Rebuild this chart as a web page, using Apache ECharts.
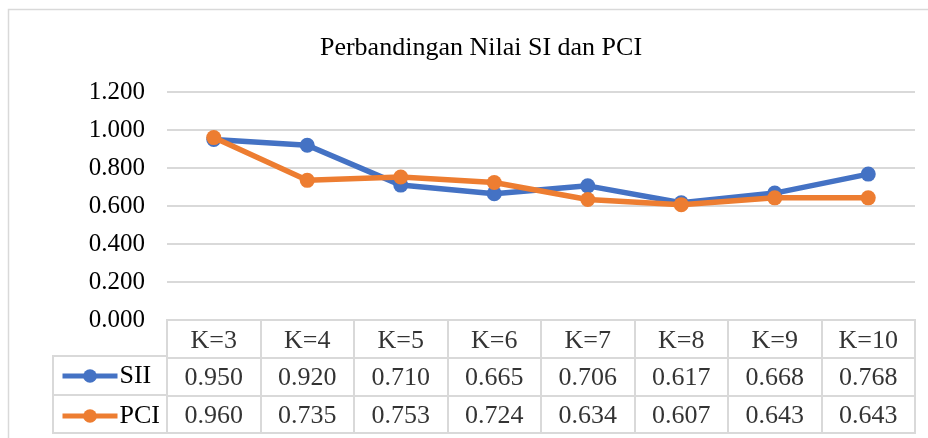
<!DOCTYPE html>
<html>
<head>
<meta charset="utf-8">
<script src="https://cdn.jsdelivr.net/npm/echarts@6/dist/echarts.min.js"></script>
<style>
  html, body { margin: 0; padding: 0; background: #fff; }
  #chart { width: 928px; height: 438px; }
</style>
</head>
<body>
<div id="chart"></div>
<script>
const titleText = "Perbandingan Nilai SI dan PCI";
const categories = ["K=3", "K=4", "K=5", "K=6", "K=7", "K=8", "K=9", "K=10"];
const siiValues = [0.950, 0.920, 0.710, 0.665, 0.706, 0.617, 0.668, 0.768];
const pciValues = [0.960, 0.735, 0.753, 0.724, 0.634, 0.607, 0.643, 0.643];
const tableRows = ["header", "SII", "PCI"];

const FONT = "'Liberation Serif', 'Times New Roman', serif";
const BLUE = "#4472c4";
const ORANGE = "#ed7d31";
const GRID_LINE = "#d9d9d9";

// table cells: header row + one row per series
const tableCells = [];
categories.forEach((cat, i) => {
  tableCells.push([cat, "header", cat]);
  tableCells.push([cat, "SII", siiValues[i].toFixed(3)]);
  tableCells.push([cat, "PCI", pciValues[i].toFixed(3)]);
});

const chart = echarts.init(document.getElementById("chart"));

chart.setOption({
  animation: false,
  title: {
    text: titleText,
    left: 476,
    textAlign: "center",
    top: 30,
    textStyle: { fontFamily: FONT, fontSize: 26, fontWeight: "normal", color: "#000" },
  },
  legend: {
    data: ["SII", "PCI"],
    orient: "vertical",
    left: 60,
    top: 361,
    padding: 0,
    itemWidth: 55,
    itemHeight: 17,
    itemGap: 10,
    textStyle: { fontFamily: FONT, fontSize: 26, lineHeight: 28, color: "#000", padding: [2, 0, 0, -3] },
    lineStyle: { width: 5 },
  },
  graphic: [
    {
      type: "rect",
      shape: { x: 8.5, y: 9.5, width: 940, height: 440 },
      style: { fill: null, stroke: GRID_LINE, lineWidth: 1.5 },
      silent: true,
      z: -1,
    },
  ],
  grid: [
    { left: 167, right: 13, top: 92, bottom: 118 },
    { left: 167, right: 13, top: 320, bottom: 5, show: true, borderColor: GRID_LINE, borderWidth: 2 },
    { left: 53, width: 114, top: 356, bottom: 5, show: true, borderColor: GRID_LINE, borderWidth: 2 },
  ],
  xAxis: [
    {
      type: "category",
      data: categories,
      gridIndex: 0,
      boundaryGap: true,
      axisLine: { show: false },
      axisTick: { show: false },
      axisLabel: { show: false },
    },
    {
      type: "category",
      data: categories,
      gridIndex: 1,
      boundaryGap: true,
      axisLine: { show: false },
      axisTick: { show: false },
      axisLabel: { show: false },
      splitLine: { show: true, lineStyle: { color: GRID_LINE, width: 2 } },
    },
    {
      type: "category",
      data: ["legend"],
      gridIndex: 2,
      show: false,
    },
  ],
  yAxis: [
    {
      type: "value",
      gridIndex: 0,
      min: 0,
      max: 1.2,
      interval: 0.2,
      axisLine: { show: false },
      axisTick: { show: false },
      axisLabel: {
        formatter: (v) => v.toFixed(3),
        fontFamily: FONT,
        fontSize: 25,
        color: "#000",
        margin: 22,
      },
      splitLine: { lineStyle: { color: GRID_LINE, width: 2 } },
    },
    {
      type: "category",
      data: tableRows,
      inverse: true,
      gridIndex: 1,
      axisLine: { show: false },
      axisTick: { show: false },
      axisLabel: { show: false },
      splitLine: { show: true, lineStyle: { color: GRID_LINE, width: 2 } },
    },
    {
      type: "category",
      data: ["SII", "PCI"],
      inverse: true,
      gridIndex: 2,
      axisLine: { show: false },
      axisTick: { show: false },
      axisLabel: { show: false },
      splitLine: { show: true, lineStyle: { color: GRID_LINE, width: 2 } },
    },
  ],
  series: [
    {
      name: "SII",
      type: "line",
      data: siiValues,
      symbol: "circle",
      symbolSize: 15,
      itemStyle: { color: BLUE },
      lineStyle: { color: BLUE, width: 5.5 },
      z: 2,
    },
    {
      name: "PCI",
      type: "line",
      data: pciValues,
      symbol: "circle",
      symbolSize: 15,
      itemStyle: { color: ORANGE },
      lineStyle: { color: ORANGE, width: 5.5 },
      z: 3,
    },
    {
      name: "table",
      type: "scatter",
      xAxisIndex: 1,
      yAxisIndex: 1,
      data: tableCells,
      symbolSize: 0,
      silent: true,
      label: {
        show: true,
        position: "inside",
        formatter: (p) => p.value[2],
        fontFamily: FONT,
        fontSize: 26,
        color: "#000",
        offset: [0, 2],
      },
    },
  ],
});
</script>
</body>
</html>
